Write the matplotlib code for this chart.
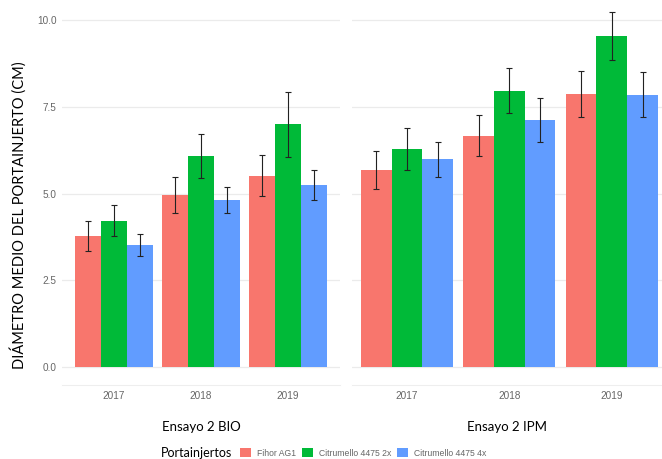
import matplotlib.pyplot as plt
import numpy as np
from matplotlib.patches import Patch

# Data
years = ['2017', '2018', '2019']
series = ['Fihor AG1', 'Citrumello 4475 2x', 'Citrumello 4475 4x']
colors = ['#F8766D', '#00BA38', '#619CFF']

bio_mean = [[3.78, 4.96, 5.51],
            [4.22, 6.09, 7.00],
            [3.52, 4.81, 5.24]]
bio_err = [[0.43, 0.51, 0.59],
           [0.45, 0.63, 0.94],
           [0.31, 0.37, 0.43]]

ipm_mean = [[5.68, 6.67, 7.88],
            [6.28, 7.97, 9.54],
            [5.99, 7.12, 7.85]]
ipm_err = [[0.55, 0.60, 0.66],
           [0.60, 0.65, 0.70],
           [0.50, 0.63, 0.65]]

panels = ['Ensayo 2 BIO', 'Ensayo 2 IPM']

W, H = 662, 459
fig = plt.figure(figsize=(W / 100, H / 100), dpi=100)

tick_font = 'Liberation Sans'
text_font = 'Lato'

# panel boxes in pixels: (left, right, xlim)
boxes = [(62, 340, (-0.6, 2.6)), (352, 662, (-0.537, 2.49))]
bottom_px, top_px = 385, 0

x = np.arange(len(years))
width = 0.3

for p, (means, errs) in enumerate([(bio_mean, bio_err), (ipm_mean, ipm_err)]):
    l, r, xl = boxes[p]
    ax = fig.add_axes([l / W, 1 - bottom_px / H, (r - l) / W, (bottom_px - top_px) / H])
    for i in range(3):
        ax.bar(x + (i - 1) * width, means[i], width, color=colors[i], zorder=2)
        ax.errorbar(x + (i - 1) * width, means[i], yerr=errs[i], fmt='none',
                    ecolor='#222222', elinewidth=0.8, capsize=2.5, capthick=0.8, zorder=3)
    ax.set_xlim(*xl)
    ax.set_ylim(-0.52, 10.58)
    ax.set_yticks([0, 2.5, 5, 7.5, 10])
    ax.set_yticklabels(['0.0', '2.5', '5.0', '7.5', '10.0'])
    ax.set_xticks(x)
    ax.set_xticklabels(years)
    ax.grid(axis='y', color='#ebebeb', linewidth=0.9, zorder=0)
    ax.set_axisbelow(True)
    for s in ['top', 'right', 'left']:
        ax.spines[s].set_visible(False)
    ax.spines['bottom'].set_color('#eeeeee')
    ax.spines['bottom'].set_linewidth(0.8)
    ax.tick_params(length=0, labelsize=7.2, labelcolor='#666666', pad=4)
    for t in ax.get_xticklabels() + ax.get_yticklabels():
        t.set_fontfamily(tick_font)
    if p == 1:
        ax.tick_params(labelleft=False)
    ax.set_xlabel(panels[p], fontsize=9.5, family=text_font, labelpad=15)

fig.text(18 / W, 1 - 215 / H, 'DIÁMETRO MEDIO DEL PORTAINJERTO (CM)', rotation=90,
         ha='center', va='center', fontsize=10.5, family=text_font)

# legend at bottom
fig.text(161 / W, 1 - 453 / H, 'Portainjertos', ha='left', va='center',
         fontsize=9, family=text_font)
handles = [Patch(facecolor=c, edgecolor='none') for c in colors]
leg = fig.legend(handles, series, loc='center left', bbox_to_anchor=(240 / W, 1 - 453 / H),
                 ncol=3, frameon=False, prop={'family': tick_font, 'size': 6.2},
                 handlelength=1.25, handleheight=1.25, handletextpad=0.7,
                 columnspacing=0.7, borderpad=0, borderaxespad=0)
for t in leg.get_texts():
    t.set_color('#666666')

fig.savefig('out.png', dpi=100, facecolor='white')
